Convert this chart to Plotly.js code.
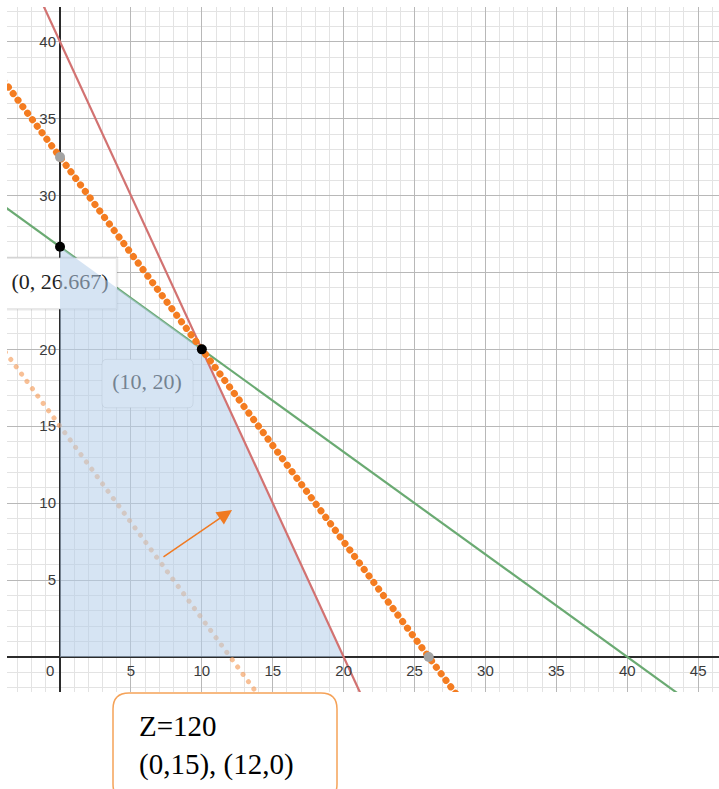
<!DOCTYPE html>
<html>
<head>
<meta charset="utf-8">
<script src="https://cdn.plot.ly/plotly-3.0.1.min.js"></script>
<style>
  html, body { margin: 0; padding: 0; background: #ffffff; }
  #chart { width: 719px; height: 789px; }
</style>
</head>
<body>
<div id="chart"></div>
<script>
// ---- data ----
// constraint 2x + y = 40
const redX = [-5, 25];
const redY = [50, -10];
// constraint 2x + 3y = 80
const greenX = [-5, 50];
const greenY = [30, -6.667];
// objective line through (10,20): 5x + 4y = 130
const objX = [-5, 30];
const objY = [38.75, -5];
// objective line Z=120: (0,15), (12,0)
const z120X = [-5, 15];
const z120Y = [21.25, -3.75];
// feasible region
const feasX = [0, 0, 10, 20];
const feasY = [0, 26.667, 20, 0];
// corner points
const cornerX = [0, 10];
const cornerY = [26.667, 20];
// intercepts of the objective line
const interX = [0, 26];
const interY = [32.5, 0];
// tick labels
const xTickVals = [5, 10, 15, 20, 25, 30, 35, 40, 45];
const xTickText = ['5', '10', '15', '20', '25', '30', '35', '40', '45'];
const yTickVals = [5, 10, 15, 20, 25, 30, 35, 40];
const yTickText = ['5', '10', '15', '20', '', '30', '35', '40'];  // 25 hidden under the label box
const pointLabels = ['(0, 26.667)', '(10, 20)'];
const noteLines = ['Z=120', '(0,15), (12,0)'];

// ---- layout geometry ----
const W = 719, H = 789;
const M = {l: 7, r: 0, t: 7, b: 97};
const xRange = [-3.74, 46.47];
const yRange = [-2.28, 42.26];
const plotW = W - M.l - M.r, plotH = H - M.t - M.b;

const sansFont = 'Liberation Sans, Arial, sans-serif';
const serifFont = 'Liberation Serif, Times New Roman, serif';

// label boxes (data coords)
const box1 = {x0: -4, x1: 4.02, y0: 22.6, y1: 25.95};
const box2 = {x0: 2.96, x1: 9.38, y0: 16.2, y1: 19.35};

const traces = [
  { // Z=120 light dotted line
    x: z120X, y: z120Y, mode: 'lines', hoverinfo: 'skip',
    line: {color: 'rgba(244,150,80,0.6)', width: 5, dash: 'dot'}
  },
  { // green constraint
    x: greenX, y: greenY, mode: 'lines', hoverinfo: 'skip',
    line: {color: '#6aaa72', width: 2.2}
  },
  { // white label box 1 (shadow)
    x: [box1.x0, box1.x1, box1.x1, box1.x0, box1.x0],
    y: [box1.y0, box1.y0, box1.y1, box1.y1, box1.y0],
    mode: 'lines', fill: 'toself', fillcolor: '#ffffff', hoverinfo: 'skip',
    line: {color: 'rgba(0,0,0,0.09)', width: 2.5}
  },
  { // point labels
    x: [0.0, 6.14], y: [24.25, 17.75], mode: 'text', text: pointLabels,
    textposition: 'middle center', hoverinfo: 'skip',
    textfont: {family: serifFont, size: 22, color: ['#222222', '#262626']}
  },
  { // feasible region
    x: feasX, y: feasY, mode: 'lines', fill: 'toself', hoverinfo: 'skip',
    fillcolor: 'rgba(180,205,233,0.55)', line: {width: 0}
  },
  { // red constraint
    x: redX, y: redY, mode: 'lines', hoverinfo: 'skip',
    line: {color: '#d27271', width: 2.2}
  },
  { // objective thick dotted
    x: objX, y: objY, mode: 'lines', hoverinfo: 'skip',
    line: {color: '#f47c20', width: 7, dash: 'dot'}
  },
  { // gray intercepts
    x: interX, y: interY, mode: 'markers', hoverinfo: 'skip',
    marker: {color: '#a3a3a3', size: 10}
  },
  { // black corners
    x: cornerX, y: cornerY, mode: 'markers', hoverinfo: 'skip',
    marker: {color: '#000000', size: 10}
  }
];

function px2paperX(p) { return (p - M.l) / plotW; }
function px2paperY(p) { return (H - M.b - p) / plotH; }

function roundRectPath(x0, x1, y0, y1, rx, ry) {
  // y0 is top (larger), y1 bottom (smaller)
  return `M${x0 + rx},${y0} L${x1 - rx},${y0} Q${x1},${y0} ${x1},${y0 - ry} ` +
         `L${x1},${y1 + ry} Q${x1},${y1} ${x1 - rx},${y1} L${x0 + rx},${y1} ` +
         `Q${x0},${y1} ${x0},${y1 + ry} L${x0},${y0 - ry} Q${x0},${y0} ${x0 + rx},${y0} Z`;
}

const noteBox = roundRectPath(px2paperX(113), px2paperX(337), px2paperY(693), px2paperY(800),
                              16 / plotW, 16 / plotH);

const uX = plotW / (xRange[1] - xRange[0]);
const uY = plotH / (yRange[1] - yRange[0]);
const box2Path = roundRectPath(box2.x0, box2.x1, box2.y1, box2.y0, 5 / uX, 5 / uY);

const layout = {
  width: W, height: H,
  margin: M,
  paper_bgcolor: '#ffffff', plot_bgcolor: '#ffffff',
  showlegend: false,
  font: {family: sansFont, size: 15, color: '#333333'},
  xaxis: {
    range: xRange, tickmode: 'array', tickvals: xTickVals, ticktext: xTickText,
    anchor: 'free', position: (0 - yRange[0]) / (yRange[1] - yRange[0]),
    showgrid: true, gridcolor: '#b8b8b8', gridwidth: 1,
    zeroline: true, zerolinecolor: '#2b2b2b', zerolinewidth: 1.6,
    showline: false, ticks: '', ticklabelstandoff: 3,
    tickfont: {family: sansFont, size: 15, color: '#3a3a3a'},
    minor: {tickmode: 'linear', tick0: 0, dtick: 1, showgrid: true, gridcolor: '#e3e3e3', gridwidth: 1},
    fixedrange: true
  },
  yaxis: {
    range: yRange, tickmode: 'array', tickvals: yTickVals, ticktext: yTickText,
    anchor: 'free', position: (0 - xRange[0]) / (xRange[1] - xRange[0]),
    showgrid: true, gridcolor: '#b8b8b8', gridwidth: 1,
    zeroline: true, zerolinecolor: '#2b2b2b', zerolinewidth: 1.6,
    showline: false, ticks: '', ticklabelstandoff: 4,
    tickfont: {family: sansFont, size: 15, color: '#3a3a3a'},
    minor: {tickmode: 'linear', tick0: 0, dtick: 1, showgrid: true, gridcolor: '#e3e3e3', gridwidth: 1},
    fixedrange: true
  },
  shapes: [
    { type: 'path', xref: 'x', yref: 'y', layer: 'between', path: box2Path,
      fillcolor: '#ffffff', line: {color: 'rgba(0,0,0,0.13)', width: 1} },
    { type: 'path', xref: 'paper', yref: 'paper', layer: 'above', path: noteBox,
      fillcolor: 'rgba(0,0,0,0)', line: {color: '#f5a258', width: 1.5} }
  ],
  annotations: [
    { x: 0, y: 0, xref: 'x', yref: 'y', text: '0', showarrow: false,
      xanchor: 'right', yanchor: 'top', xshift: -4, yshift: -3,
      font: {family: sansFont, size: 15, color: '#3a3a3a'} },
    { x: 12.13, y: 9.56, xref: 'x', yref: 'y', ax: 7.19, ay: 6.44, axref: 'x', ayref: 'y',
      text: '', showarrow: true, arrowhead: 2, arrowsize: 2, arrowwidth: 1.5,
      arrowcolor: '#f07a22', standoff: 0 },
    { x: px2paperX(137), y: px2paperY(726), xref: 'paper', yref: 'paper',
      text: noteLines[0], showarrow: false, xanchor: 'left', yanchor: 'middle',
      font: {family: serifFont, size: 29, color: '#000000'} },
    { x: px2paperX(137), y: px2paperY(764), xref: 'paper', yref: 'paper',
      text: noteLines[1], showarrow: false, xanchor: 'left', yanchor: 'middle',
      font: {family: serifFont, size: 29, color: '#000000'} }
  ]
};

Plotly.newPlot('chart', traces, layout, {staticPlot: true, displayModeBar: false}).then(function (gd) {
  const groups = gd.querySelectorAll('.scatterlayer .trace');
  const dotStyle = {0: '0.1px 9px', 6: '0.1px 8px'};
  Object.keys(dotStyle).forEach(function (k) {
    const g = groups[+k];
    if (!g) return;
    g.querySelectorAll('path.js-line').forEach(function (p) {
      p.style.strokeLinecap = 'round';
      p.style.strokeDasharray = dotStyle[k];
    });
  });
});
</script>
</body>
</html>
